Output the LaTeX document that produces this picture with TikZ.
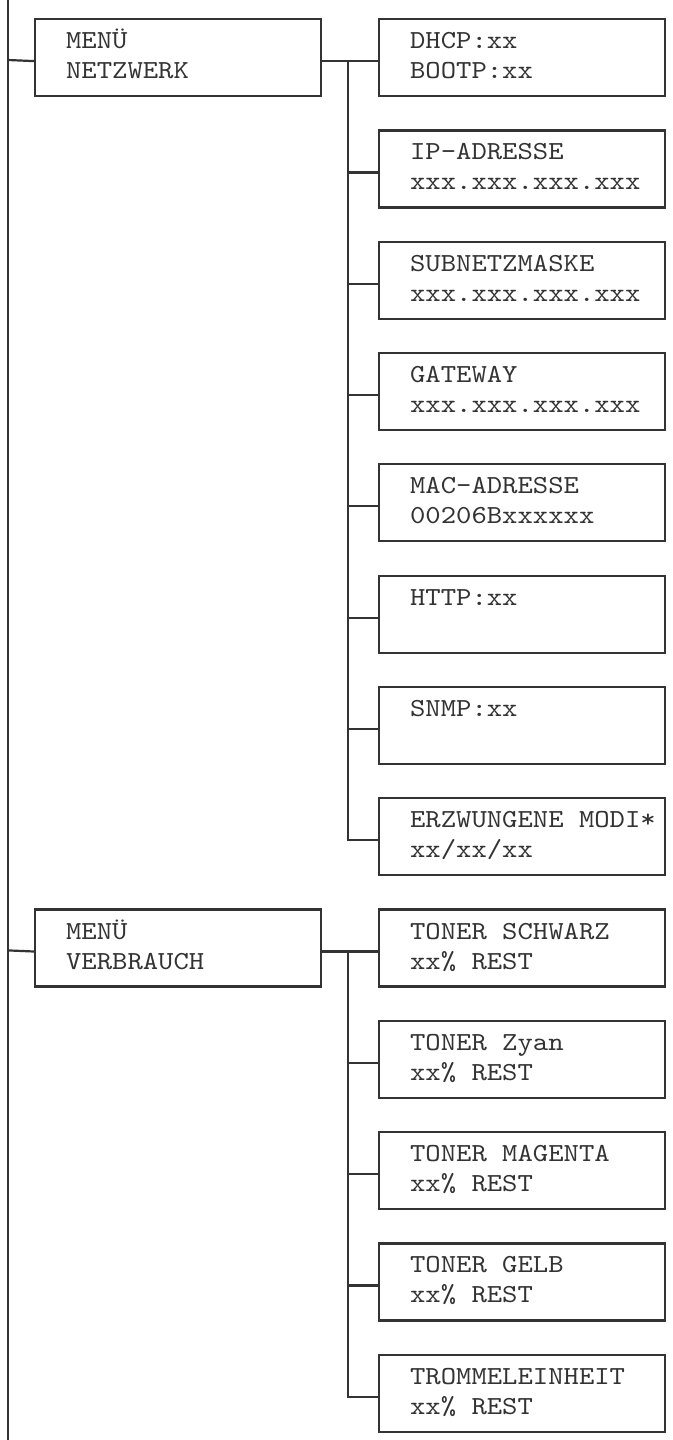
\documentclass[tikz,border=0pt]{standalone}
\usepackage{fontspec}
\setmonofont{lmmono10-regular.otf}[FakeStretch=1.125]
\definecolor{ink}{HTML}{333333}

\tikzset{
  menubox/.style={draw=ink, line width=1.1pt, anchor=north west,
    minimum height=38.5pt, text width=112pt, inner xsep=15.5pt, inner ysep=0pt,
    align=left, text=ink, font=\ttfamily\fontsize{13}{15}\selectfont,
    execute at begin node={\spaceskip=\fontcharwd\font`x\relax\strut},
    execute at end node=\strut},
  wire/.style={draw=ink, line width=1.1pt}
}

\begin{document}
\begin{tikzpicture}[x=1pt, y=-1pt]
    \useasboundingbox (0,0) rectangle (336.5,720);

    % main menus
    \node[menubox] (netzwerk) at (17,9) {MENÜ\\NETZWERK};
    \node[menubox] (verbrauch) at (17,454.2) {MENÜ\\VERBRAUCH};

    % network settings
    \node[menubox] (dhcp) at (189,9) {DHCP:xx\\BOOTP:xx};
    \node[menubox] (ipadr) at (189,64.65) {IP-ADRESSE\\xxx.xxx.xxx.xxx};
    \node[menubox] (subnetz) at (189,120.3) {SUBNETZMASKE\\xxx.xxx.xxx.xxx};
    \node[menubox] (gateway) at (189,175.95) {GATEWAY\\xxx.xxx.xxx.xxx};
    \node[menubox] (macadr) at (189,231.6) {MAC-ADRESSE\\00206Bxxxxxx};
    \node[menubox] (http) at (189,287.25) {HTTP:xx\\};
    \node[menubox] (snmp) at (189,342.9) {SNMP:xx\\};
    \node[menubox] (modi) at (189,398.55) {ERZWUNGENE~MODI*\\xx/xx/xx};

    % consumables
    \node[menubox] (schwarz) at (189,454.2) {TONER~SCHWARZ\\xx\%~REST};
    \node[menubox] (zyan) at (189,509.85) {TONER~Zyan\\xx\%~REST};
    \node[menubox] (magenta) at (189,565.5) {TONER~MAGENTA\\xx\%~REST};
    \node[menubox] (gelb) at (189,621.15) {TONER~GELB\\xx\%~REST};
    \node[menubox] (trommel) at (189,676.8) {TROMMELEINHEIT\\xx\%~REST};

    \coordinate (stamm) at (4,0);
    \coordinate (stammende) at (4,720);
    \coordinate (netz) at (174,30);
    \coordinate (verb) at (174,475.2);

    \draw[wire] (stamm) -- (stammende);
    \draw[wire] (stamm |- netz) -- ([yshift=-1.75pt]netzwerk.west);
    \draw[wire] (stamm |- verb) -- ([yshift=-1.75pt]verbrauch.west);

    \draw[wire] ([yshift=-1.75pt]netzwerk.east) -- ([yshift=-1.75pt]dhcp.west);
    \foreach \n in {ipadr,subnetz,gateway,macadr,http,snmp,modi}
        \draw[wire] (netz) |- ([yshift=-1.75pt]\n.west);

    \draw[wire] ([yshift=-1.75pt]verbrauch.east) -- ([yshift=-1.75pt]schwarz.west);
    \foreach \n in {zyan,magenta,gelb,trommel}
        \draw[wire] (verb) |- ([yshift=-1.75pt]\n.west);
\end{tikzpicture}
\end{document}
